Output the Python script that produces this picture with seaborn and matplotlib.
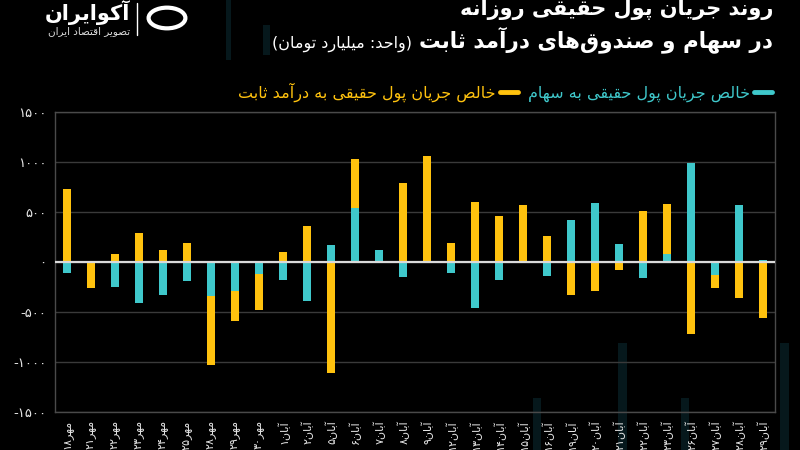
import re
import numpy as np
import pandas as pd
import matplotlib
matplotlib.use('Agg')
import matplotlib.pyplot as plt
import seaborn as sns
from matplotlib.lines import Line2D
from matplotlib.patches import Circle, Rectangle

# ---------------- data ----------------
dates = ['مهر۱۸', 'مهر۲۱', 'مهر۲۲', 'مهر۲۳', 'مهر۲۴', 'مهر۲۵', 'مهر۲۸', 'مهر۲۹', 'مهر۳۰',
         'آبان۱', 'آبان۲', 'آبان۵', 'آبان۶', 'آبان۷', 'آبان۸', 'آبان۹',
         'آبان۱۲', 'آبان۱۳', 'آبان۱۴', 'آبان۱۵', 'آبان۱۶',
         'آبان۱۹', 'آبان۲۰', 'آبان۲۱', 'آبان۲۲', 'آبان۲۳',
         'آبان۲۶', 'آبان۲۷', 'آبان۲۸', 'آبان۲۹']
stocks = [-110, 0, -250, -406, -326, -190, -340, -290, -117, -183,
          -390, 167, 540, 117, -150, 0, -110, -456, -176, 0,
          -140, 417, 590, 177, -156, 77, 990, -126, 567, 24]
fixed = [735, -256, 84, 290, 117, 190, -693, -300, -366, 100,
         360, -1106, 494, 0, 794, 1060, 194, 600, 457, 567,
         257, -333, -293, -76, 507, 507, -723, -130, -356, -560]
y_ticks = [1500, 1000, 500, 0, -500, -1000, -1500]
y_tick_labels = ['۱۵۰۰', '۱۰۰۰', '۵۰۰', '۰', '-۵۰۰', '-۱۰۰۰', '-۱۵۰۰']
title_line1 = 'روند جریان پول حقیقی روزانه'
title_line2 = 'در سهام و صندوق\u200cهای درآمد ثابت'
unit_text = '(واحد: میلیارد تومان)'
legend_stocks = 'خالص جریان پول حقیقی به سهام'
legend_fixed = 'خالص جریان پول حقیقی به درآمد ثابت'
brand = 'آکوایران'
brand_sub = 'تصویر اقتصاد ایران'

BG = '#000000'
YELLOW = '#FFC20E'
CYAN = '#3FC8CB'
STRIPE = '#06181c'

# ---------------- Persian shaping (matplotlib has no bidi / shaping) ----------------
FORMS = {
    '\u0627': ('\uFE8D', '\uFE8E'),
    '\u0622': ('\uFE81', '\uFE82'),
    '\u0628': ('\uFE8F', '\uFE90', '\uFE91', '\uFE92'),
    '\u067E': ('\uFB56', '\uFB57', '\uFB58', '\uFB59'),
    '\u062A': ('\uFE95', '\uFE96', '\uFE97', '\uFE98'),
    '\u062B': ('\uFE99', '\uFE9A', '\uFE9B', '\uFE9C'),
    '\u062C': ('\uFE9D', '\uFE9E', '\uFE9F', '\uFEA0'),
    '\u0686': ('\uFB7A', '\uFB7B', '\uFB7C', '\uFB7D'),
    '\u062D': ('\uFEA1', '\uFEA2', '\uFEA3', '\uFEA4'),
    '\u062E': ('\uFEA5', '\uFEA6', '\uFEA7', '\uFEA8'),
    '\u062F': ('\uFEA9', '\uFEAA'),
    '\u0630': ('\uFEAB', '\uFEAC'),
    '\u0631': ('\uFEAD', '\uFEAE'),
    '\u0632': ('\uFEAF', '\uFEB0'),
    '\u0698': ('\uFB8A', '\uFB8B'),
    '\u0633': ('\uFEB1', '\uFEB2', '\uFEB3', '\uFEB4'),
    '\u0634': ('\uFEB5', '\uFEB6', '\uFEB7', '\uFEB8'),
    '\u0635': ('\uFEB9', '\uFEBA', '\uFEBB', '\uFEBC'),
    '\u0636': ('\uFEBD', '\uFEBE', '\uFEBF', '\uFEC0'),
    '\u0637': ('\uFEC1', '\uFEC2', '\uFEC3', '\uFEC4'),
    '\u0638': ('\uFEC5', '\uFEC6', '\uFEC7', '\uFEC8'),
    '\u0639': ('\uFEC9', '\uFECA', '\uFECB', '\uFECC'),
    '\u063A': ('\uFECD', '\uFECE', '\uFECF', '\uFED0'),
    '\u0641': ('\uFED1', '\uFED2', '\uFED3', '\uFED4'),
    '\u0642': ('\uFED5', '\uFED6', '\uFED7', '\uFED8'),
    '\u06A9': ('\uFB8E', '\uFB8F', '\uFB90', '\uFB91'),
    '\u0643': ('\uFED9', '\uFEDA', '\uFEDB', '\uFEDC'),
    '\u06AF': ('\uFB92', '\uFB93', '\uFB94', '\uFB95'),
    '\u0644': ('\uFEDD', '\uFEDE', '\uFEDF', '\uFEE0'),
    '\u0645': ('\uFEE1', '\uFEE2', '\uFEE3', '\uFEE4'),
    '\u0646': ('\uFEE5', '\uFEE6', '\uFEE7', '\uFEE8'),
    '\u0647': ('\uFEE9', '\uFEEA', '\uFEEB', '\uFEEC'),
    '\u0648': ('\uFEED', '\uFEEE'),
    '\u06CC': ('\uFBFC', '\uFBFD', '\uFBFE', '\uFBFF'),
    '\u064A': ('\uFEF1', '\uFEF2', '\uFEF3', '\uFEF4'),
}
DIGITS = '0123456789\u06F0\u06F1\u06F2\u06F3\u06F4\u06F5\u06F6\u06F7\u06F8\u06F9'
MIRROR = str.maketrans('()', ')(')


def shape(word):
    out = []
    n = len(word)
    for i, ch in enumerate(word):
        if ch not in FORMS:
            if ch != '\u200c':
                out.append(ch)
            continue
        f = FORMS[ch]
        prev = word[i - 1] if i > 0 else None
        nxt = word[i + 1] if i + 1 < n else None
        cp = prev in FORMS and len(FORMS[prev]) == 4
        cn = len(f) == 4 and nxt in FORMS
        if cp and cn:
            out.append(f[3])
        elif cp:
            out.append(f[1])
        elif cn:
            out.append(f[2])
        else:
            out.append(f[0])
    return ''.join(out)


def rtl(s):
    t = shape(s)
    runs = re.findall('[' + DIGITS + ']+|[^' + DIGITS + ']+', t)
    vis = []
    for r in reversed(runs):
        if r[0] in DIGITS:
            vis.append(r)
        else:
            vis.append(r[::-1].translate(MIRROR))
    return ''.join(vis)


# ---------------- theme ----------------
sns.set_theme(style='dark', rc={
    'axes.facecolor': 'none', 'figure.facecolor': BG, 'savefig.facecolor': BG,
    'axes.edgecolor': '#4a4a4a', 'grid.color': '#3a3a3a',
    'text.color': 'white', 'xtick.color': '#e6e6e6', 'ytick.color': '#e6e6e6',
})
plt.rcParams['font.family'] = ['DejaVu Sans']

df = pd.DataFrame({'date': dates, 'stocks': stocks, 'fixed': fixed})
same_sign = np.sign(df['stocks']) == np.sign(df['fixed'])
df['fixed_extent'] = np.where(same_sign, df['fixed'] + df['stocks'], df['fixed'])

fig = plt.figure(figsize=(8, 4.5), dpi=100)

# faint decorative background stripes (figure pixels: x, y_top, width, height)
for sx, sy, sw, sh in [(618, 343, 9, 107), (780, 343, 9, 107), (533, 398, 8, 52),
                       (681, 398, 8, 52), (263, 25, 7, 30), (226, 0, 5, 60)]:
    fig.add_artist(Rectangle((sx / 800, 1 - (sy + sh) / 450), sw / 800, sh / 450,
                             transform=fig.transFigure, facecolor=STRIPE,
                             edgecolor='none', zorder=0))

ax = fig.add_axes([55 / 800, 38 / 450, 720 / 800, 300 / 450])
ax.patch.set_alpha(0)

sns.barplot(data=df, x='date', y='fixed_extent', order=dates, color=YELLOW,
            width=0.33, saturation=1, errorbar=None, linewidth=0, ax=ax, zorder=2)
sns.barplot(data=df, x='date', y='stocks', order=dates, color=CYAN,
            width=0.33, saturation=1, errorbar=None, linewidth=0, ax=ax, zorder=3)

ax.axhline(0, color='#dadada', lw=1.6, zorder=4)
ax.set_xlim(-0.5, len(dates) - 0.5)
ax.set_ylim(-1500, 1500)
ax.set_yticks(y_ticks)
ax.set_yticklabels(y_tick_labels, fontsize=9.5)
ax.set_xticks(range(len(dates)))
ax.set_xticklabels([rtl(d) for d in dates], rotation=90, fontsize=8)
ax.tick_params(axis='both', length=0)
ax.tick_params(axis='x', pad=6)
ax.tick_params(axis='y', pad=6)
ax.set_xlabel('')
ax.set_ylabel('')
ax.grid(axis='y', color='#3a3a3a', lw=1)
ax.grid(axis='x', visible=False)
ax.set_axisbelow(True)
for sp in ax.spines.values():
    sp.set_color('#4a4a4a')
    sp.set_linewidth(1)

# ---------------- titles ----------------
fig.text(773 / 800, 1 - 15 / 450, rtl(title_line1), ha='right', va='baseline',
         fontsize=15, fontweight='bold', color='white')
fig.text(773 / 800, 1 - 47 / 450, rtl(title_line2), ha='right', va='baseline',
         fontsize=15.5, fontweight='bold', color='white')
fig.text(412 / 800, 1 - 48 / 450, rtl(unit_text), ha='right', va='baseline',
         fontsize=11.5, color='white')

# ---------------- legend ----------------
handles = [Line2D([], [], color=YELLOW, lw=3.5), Line2D([], [], color=CYAN, lw=3.5)]
fig.legend(handles=handles, labels=[rtl(legend_fixed), rtl(legend_stocks)],
           ncol=2, markerfirst=False, frameon=False, loc='center right',
           bbox_to_anchor=(772 / 800, 1 - 92 / 450), handlelength=1.1,
           handletextpad=0.3, columnspacing=0.6, fontsize=11.5,
           labelcolor=[YELLOW, CYAN], borderaxespad=0, borderpad=0)

# ---------------- brand ----------------
fig.text(130 / 800, 1 - 20 / 450, rtl(brand), ha='right', va='baseline',
         fontsize=15, fontweight='bold', color='white')
fig.text(130 / 800, 1 - 34 / 450, rtl(brand_sub), ha='right', va='baseline',
         fontsize=7.5, color='#dddddd')
fig.add_artist(Line2D([137 / 800, 137 / 800], [1 - 3 / 450, 1 - 35 / 450],
                      color='white', lw=1, transform=fig.transFigure))
fig.add_artist(Circle((167 / 800, 1 - 18 / 450), 0.023, transform=fig.transFigure,
                      facecolor='none', edgecolor='white', lw=3))

fig.savefig('out.png', dpi=100, facecolor=BG)
